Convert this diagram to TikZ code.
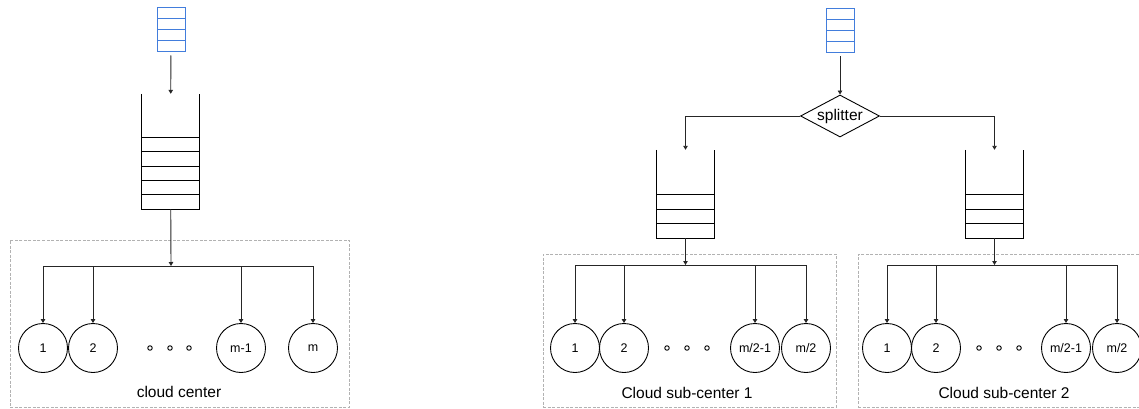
\documentclass[tikz,border=0pt]{standalone}
\usepackage{fontspec}
\setmainfont{Liberation Sans}
\usetikzlibrary{shapes.geometric,arrows.meta,positioning}
\definecolor{queueblue}{RGB}{66,125,220}

\begin{document}
\begin{tikzpicture}[x=1pt, y=-1pt, every node/.style={font=\fontsize{12.5}{14}\selectfont}]
    \tikzstyle{inbuf} = [rectangle, draw=queueblue, line width=1pt, inner sep=0pt,
        minimum width=28pt, minimum height=44pt,
        path picture={\foreach \k in {1,2,3}
            \draw[queueblue, line width=1pt] ([yshift=-\k*11pt]path picture bounding box.north west)
                -- ([yshift=-\k*11pt]path picture bounding box.north east);}]
    \tikzstyle{stack} = [rectangle, inner sep=0pt, minimum width=57pt]
    \tikzstyle{server} = [circle, draw, line width=0.9pt, inner sep=0pt, minimum size=49pt]
    \tikzstyle{dot} = [circle, draw, line width=0.9pt, inner sep=0pt, minimum size=4.5pt]
    \tikzstyle{cluster} = [rectangle, draw=gray!60, dash pattern=on 3pt off 1.5pt, line width=0.9pt, inner sep=0pt]
    \tikzstyle{bigtext} = [font=\fontsize{15.5}{18}\selectfont]
    \tikzstyle{arr} = [-{Triangle[length=4pt, width=4.5pt]}, line width=0.9pt, draw=black!85]
    \path[use as bounding box, clip] (0,0) rectangle (1139,409);

    % single cloud center
    \node (inL) [inbuf] at (171,30) {};
    \node (qL) [stack, minimum height=115pt] at (170.5,151.5) {};
    \draw[line width=0.9pt] (qL.north west) -- (qL.south west) -- (qL.south east) -- (qL.north east);
    \foreach \k in {1,...,5}
        \draw[line width=0.9pt] ([yshift=\k*14.4pt]qL.south west) -- ([yshift=\k*14.4pt]qL.south east);
    \node (cloudL) [cluster, minimum width=339pt, minimum height=167pt] at (179.5,323.5) {};
    \node (sL1) [server] at (43,348) {1};
    \node (sL2) [server] at (93,348) {2};
    \node (sL3) [server] at (241,348) {m-1};
    \node (sL4) [server] at (313,348) {m};
    \node (dL1) [dot] at (150,348) {};
    \node (dL2) [dot] at (170,348) {};
    \node (dL3) [dot] at (189,348) {};
    \node (titleL) [bigtext] at (179,392) {cloud center};
    \coordinate (busL) at (171,266);

    \draw[arr, shorten <=3pt] (inL) -- (qL);
    \draw[arr] (qL) -- (busL);
    \foreach \s in {sL1,sL2,sL3,sL4}
        \draw[arr] (busL) -| (\s);

    % split into two sub-centers
    \node (inR) [inbuf] at (840,31) {};
    \node (split) [diamond, draw, line width=0.9pt, inner sep=0pt, aspect=1.9,
        minimum width=79pt, minimum height=42pt, bigtext] at (840,116) {splitter};
    \node (qR1) [stack, minimum height=88pt] at (685.5,194) {};
    \node (qR2) [stack, minimum height=88pt] at (994.5,194) {};
    \foreach \q in {qR1,qR2} {
        \draw[line width=0.9pt] (\q.north west) -- (\q.south west) -- (\q.south east) -- (\q.north east);
        \foreach \k in {1,2,3}
            \draw[line width=0.9pt] ([yshift=\k*14.5pt]\q.south west) -- ([yshift=\k*14.5pt]\q.south east);
    }

    \node (cloudR1) [cluster, minimum width=293pt, minimum height=153pt] at (689.5,330.5) {};
    \node (sA1) [server] at (575,348) {1};
    \node (sA2) [server] at (624,348) {2};
    \node (sA3) [server] at (755,348) {m/2-1};
    \node (sA4) [server] at (806,348) {m/2};
    \node (dA1) [dot] at (667,348) {};
    \node (dA2) [dot] at (687,348) {};
    \node (dA3) [dot] at (707,348) {};
    \node (titleR1) [bigtext] at (687,393) {Cloud sub-center 1};
    \coordinate (busR1) at (685.5,265);

    \node (cloudR2) [cluster, minimum width=300pt, minimum height=153pt] at (1008,330.5) {};
    \node (sB1) [server] at (887,348) {1};
    \node (sB2) [server] at (936,348) {2};
    \node (sB3) [server] at (1066,348) {m/2-1};
    \node (sB4) [server] at (1117,348) {m/2};
    \node (dB1) [dot] at (979,348) {};
    \node (dB2) [dot] at (999,348) {};
    \node (dB3) [dot] at (1019,348) {};
    \node (titleR2) [bigtext] at (1004,393) {Cloud sub-center 2};
    \coordinate (busR2) at (994.5,265);

    \draw[arr, shorten <=3pt] (inR) -- (split);
    \draw[arr] (split.west) -| (qR1.north);
    \draw[arr] (split.east) -| (qR2.north);
    \draw[arr] (qR1) -- (busR1);
    \draw[arr] (qR2) -- (busR2);
    \foreach \s in {sA1,sA2,sA3,sA4}
        \draw[arr] (busR1) -| (\s);
    \foreach \s in {sB1,sB2,sB3,sB4}
        \draw[arr] (busR2) -| (\s);
\end{tikzpicture}
\end{document}
